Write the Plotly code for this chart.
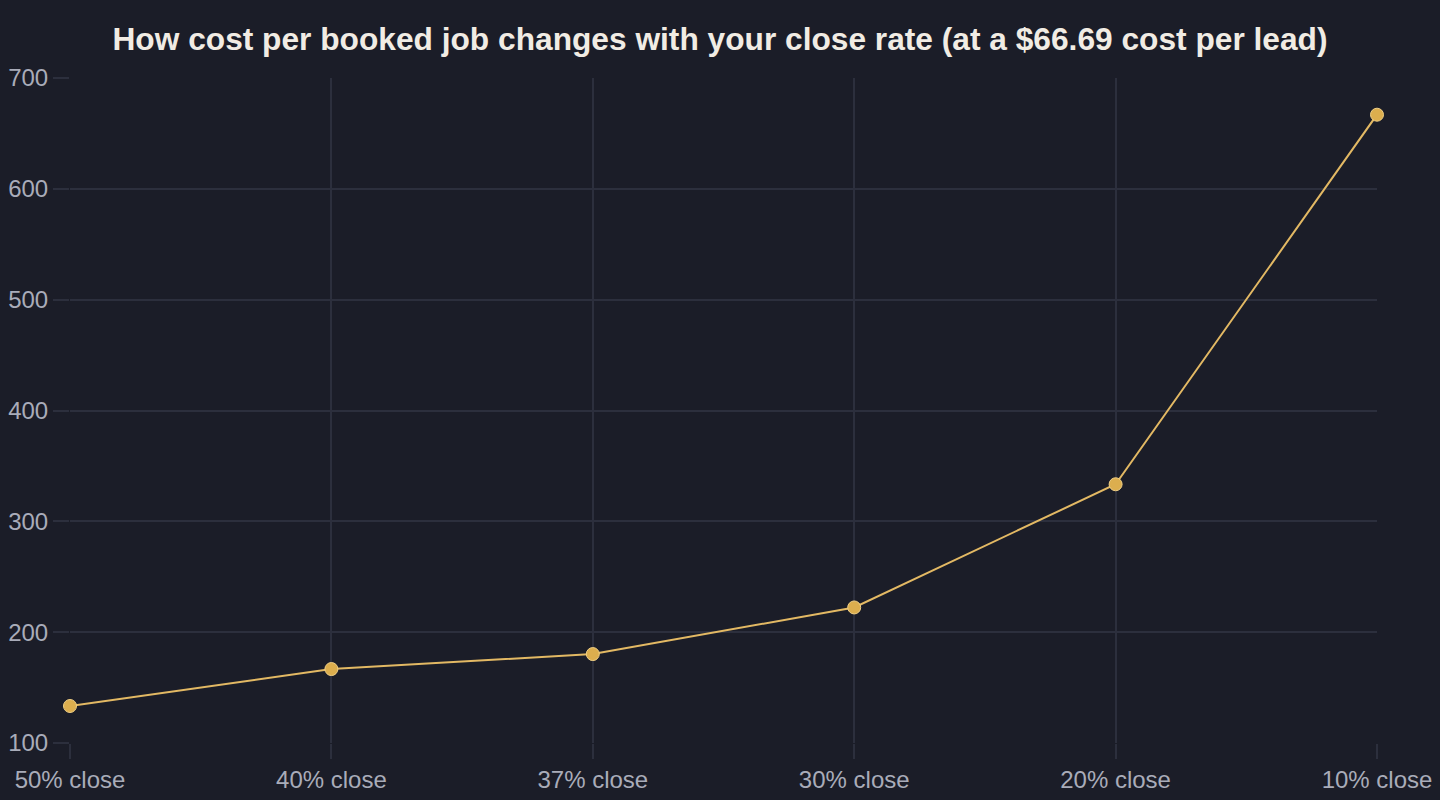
import plotly.graph_objects as go

categories = ["50% close", "40% close", "37% close", "30% close", "20% close", "10% close"]
cost_per_job = [133.38, 166.73, 180.24, 222.30, 333.45, 666.90]
y_ticks = [100, 200, 300, 400, 500, 600, 700]

BG = "#1b1d28"
GRID = "#2c2f3d"
LINE = "#e3b964"
MARK = "#dcae4e"

fig = go.Figure()
fig.add_trace(go.Scatter(
    x=list(range(len(categories))),
    y=cost_per_job,
    mode="lines+markers",
    line=dict(color=LINE, width=2),
    marker=dict(size=13, color=MARK, line=dict(color="#f0cf85", width=1)),
    cliponaxis=False,
    hoverinfo="skip",
))

fig.update_layout(
    width=1440, height=800,
    paper_bgcolor=BG, plot_bgcolor=BG,
    margin=dict(l=70, r=63, t=78, b=57, autoexpand=False),
    showlegend=False,
    font=dict(family="Liberation Sans, Arial, sans-serif", color="#a9acb9", size=24),
    title=dict(
        text="<b>How cost per booked job changes with your close rate (at a $66.69 cost per lead)</b>",
        x=0.5, xanchor="center", y=0.951, yanchor="middle",
        font=dict(size=31.7, color="#f1ece4", family="Liberation Sans, Arial, sans-serif"),
    ),
    xaxis=dict(
        range=[0, len(categories) - 1],
        tickmode="array",
        tickvals=list(range(len(categories))),
        ticktext=categories,
        showgrid=True, gridcolor=GRID, gridwidth=2,
        ticks="outside", ticklen=15, tickcolor=GRID, tickwidth=2,
        zeroline=False, showline=False, automargin=False,
    ),
    yaxis=dict(
        range=[100, 700],
        tickmode="array",
        tickvals=y_ticks,
        showgrid=True, gridcolor=GRID, gridwidth=2,
        ticks="outside", ticklen=16, tickcolor=GRID, tickwidth=2,
        zeroline=False, showline=False, automargin=False,
    ),
)

fig.write_html("out.html")
